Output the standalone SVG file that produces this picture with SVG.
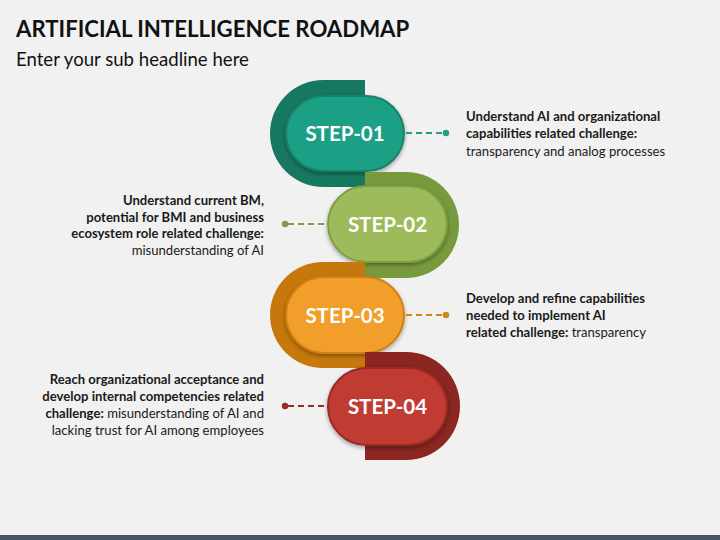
<svg xmlns="http://www.w3.org/2000/svg" width="720" height="540" viewBox="0 0 720 540">
<style>
.title{font-family:Lato,"Open Sans","Liberation Sans",sans-serif;font-weight:bold;font-size:22.2px;fill:#111}
.sub{font-family:Lato,"Open Sans","Liberation Sans",sans-serif;font-size:18.6px;fill:#111}
.lbl{font-family:Lato,"Open Sans","Liberation Sans",sans-serif;font-weight:bold;font-size:20.5px;fill:#fff;text-anchor:middle}
.t{font-family:Lato,"Open Sans","Liberation Sans",sans-serif;font-size:13.1px;fill:#1a1a1a}
.b{font-weight:bold}
.r{text-anchor:end}
.dash{stroke-width:2;stroke-dasharray:6,4;fill:none}
</style>
<defs>
<filter id="sh" x="-20%" y="-20%" width="140%" height="150%">
<feDropShadow dx="0" dy="2" stdDeviation="2" flood-color="#000" flood-opacity="0.35"/>
</filter>
</defs>
<rect width="720" height="540" fill="#F1F1F1"/>
<rect x="0" y="535" width="720" height="5" fill="#44546A"/>
<text class="title" x="16" y="37">ARTIFICIAL INTELLIGENCE ROADMAP</text>
<text class="sub" x="16" y="66">Enter your sub headline here</text>

<g id="step1">
<path d="M365,80 H323.5 A53.5,53.5 0 0 0 323.5,187 H365 Z" fill="#177862"/>
<rect x="286" y="96" width="118" height="75" rx="37.5" fill="#1FA085" stroke="#168268" stroke-width="2" filter="url(#sh)"/>
<text class="lbl" x="345" y="141">STEP-01</text>
</g>
<g id="step2">
<path d="M365,172 H406 A53,53 0 0 1 406,278 H365 Z" fill="#789A3E"/>
<rect x="328" y="186" width="119" height="76" rx="38" fill="#9DBB5A" stroke="#7E9E42" stroke-width="2" filter="url(#sh)"/>
<text class="lbl" x="387.5" y="232">STEP-02</text>
</g>
<g id="step3">
<path d="M365,262 H323 A53,53 0 0 0 323,368 H365 Z" fill="#C6780C"/>
<rect x="286" y="277" width="118" height="76" rx="38" fill="#F19E29" stroke="#CE8012" stroke-width="2" filter="url(#sh)"/>
<text class="lbl" x="345" y="323">STEP-03</text>
</g>
<g id="step4">
<path d="M365,352 H406 A54,54 0 0 1 406,460 H365 Z" fill="#8B2621"/>
<rect x="328" y="368" width="119" height="77" rx="38.5" fill="#C03A30" stroke="#9A2B24" stroke-width="2" filter="url(#sh)"/>
<text class="lbl" x="387.5" y="414">STEP-04</text>
</g>

<g id="connectors">
<line class="dash" x1="406" y1="133" x2="443" y2="133" stroke="#1FA085"/>
<circle cx="446" cy="133" r="3.2" fill="#1FA085"/>
<line class="dash" x1="288" y1="224" x2="327" y2="224" stroke="#7E9E42"/>
<circle cx="285" cy="224" r="3.2" fill="#7E9E42"/>
<line class="dash" x1="406" y1="315" x2="443" y2="315" stroke="#D4861A"/>
<circle cx="446" cy="315" r="3.2" fill="#D4861A"/>
<line class="dash" x1="288" y1="406" x2="327" y2="406" stroke="#9A2B24"/>
<circle cx="285" cy="406" r="3.2" fill="#9A2B24"/>
</g>

<g id="text1">
<text class="t b" x="466" y="121">Understand AI and organizational</text>
<text class="t b" x="466" y="138">capabilities related challenge:</text>
<text class="t" x="466" y="156">transparency and analog processes</text>
</g>
<g id="text2">
<text class="t b r" x="264" y="205">Understand current BM,</text>
<text class="t b r" x="264" y="222">potential for BMI and business</text>
<text class="t b r" x="264" y="238">ecosystem role related challenge:</text>
<text class="t r" x="264" y="255">misunderstanding of AI</text>
</g>
<g id="text3">
<text class="t b" x="466" y="303">Develop and refine capabilities</text>
<text class="t b" x="466" y="320">needed to implement AI</text>
<text class="t" x="466" y="337"><tspan class="b">related challenge:</tspan> transparency</text>
</g>
<g id="text4">
<text class="t b r" x="264" y="384">Reach organizational acceptance and</text>
<text class="t b r" x="264" y="401">develop internal competencies related</text>
<text class="t r" x="264" y="418"><tspan class="b">challenge:</tspan> misunderstanding of AI and</text>
<text class="t r" x="264" y="435">lacking trust for AI among employees</text>
</g>
</svg>
